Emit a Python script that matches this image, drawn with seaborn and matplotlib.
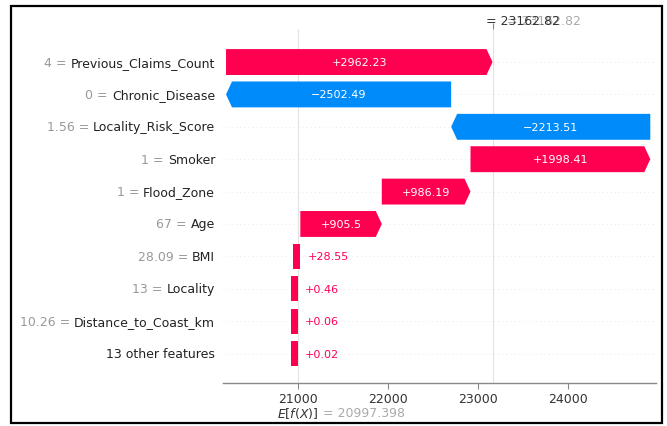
import numpy as np
import matplotlib
matplotlib.use("Agg")
import matplotlib.pyplot as plt
from matplotlib.patches import Polygon, Rectangle
import seaborn as sns

# ---------------- data ----------------
feature_names = ["Previous_Claims_Count", "Chronic_Disease", "Locality_Risk_Score", "Smoker",
                 "Flood_Zone", "Age", "BMI", "Locality", "Distance_to_Coast_km", "13 other features"]
feature_values = ["4", "0", "1.56", "1", "1", "67", "28.09", "13", "10.26", ""]
shap_values = [2962.23, -2502.49, -2213.51, 1998.41, 986.19, 905.5, 28.55, 0.46, 0.06, 0.02]
base_value = 20997.398
fx_text = "23162.82"
x_ticks = [21000, 22000, 23000, 24000]

RED = "#ff0051"
BLUE = "#008bfb"

sns.set_theme(style="white")
plt.rcParams['font.family'] = ['DejaVu Sans']

W, H = 667, 427
fig = plt.figure(figsize=(W / 100, H / 100), dpi=100)
AX_L, AX_R, AX_T, AX_B = 223, 656, 30, 384
ax = fig.add_axes([AX_L / W, 1 - AX_B / H, (AX_R - AX_L) / W, (AX_B - AX_T) / H])
xmin, xmax = 20167, 24980
ax.set_xlim(xmin, xmax)
n = len(shap_values)
ax.set_ylim(n - 0.09, -1.02)
px = (xmax - xmin) / (AX_R - AX_L)      # data units per pixel

vals = np.array(shap_values)
ends = base_value + np.cumsum(vals[::-1])[::-1]
starts = ends - vals
fx = ends[0]

# background guide lines
for i in range(n):
    ax.axhline(i, color="#d4d4d4", lw=0.5, dashes=(1, 5), zorder=-1)
ax.axvline(base_value, color="#e2e2e2", lw=0.8, zorder=0)
ax.axvline(fx, color="#e2e2e2", lw=0.8, zorder=0)

renderer = fig.canvas.get_renderer()
h = 0.8
hl = 6 * px

def fmt(v):
    s = "{:.2f}".format(abs(v)).rstrip("0").rstrip(".")
    return ("+" if v >= 0 else "\u2212") + s

for i, v in enumerate(vals):
    a, b = starts[i], ends[i]
    d = 1 if v >= 0 else -1
    col = RED if v >= 0 else BLUE
    if abs(v) > hl:
        poly = Polygon([(a, i - h / 2), (b - d * hl, i - h / 2), (b, i),
                        (b - d * hl, i + h / 2), (a, i + h / 2)],
                       closed=True, fc=col, ec="none", zorder=2)
        ax.add_patch(poly)
    else:
        c = (a + b) / 2 - 3 * px
        ax.add_patch(Rectangle((c - 3.5 * px, i - 0.39), 7 * px, 0.78,
                               fc=col, ec="none", zorder=2))
    t = ax.text((a + b) / 2, i, fmt(v), ha="center", va="center",
                color="white", fontsize=8, zorder=3)
    tw = t.get_window_extent(renderer).width
    if tw + 12 > abs(v) / px:
        t.remove()
        ax.text(max(a, b) + 7 * px if d > 0 else min(a, b) - 7 * px, i, fmt(v),
                ha="left" if d > 0 else "right", va="center", color=col,
                fontsize=8, zorder=3)

# feature labels
ytr = ax.get_yaxis_transform()
lab_x = (215 - AX_L) / (AX_R - AX_L)
for i, (name, fv) in enumerate(zip(feature_names, feature_values)):
    t = ax.text(lab_x, i, name, transform=ytr, ha="right", va="center",
                color="#222222", fontsize=9)
    if fv:
        bb = t.get_window_extent(renderer)
        left_axes = ax.transAxes.inverted().transform((bb.x0, 0))[0]
        ax.text(left_axes, i, fv + " = ", transform=ytr, ha="right", va="center",
                color="#999999", fontsize=9)

# axes styling
ax.set_yticks([])
ax.set_xticks(x_ticks)
ax.set_xticklabels([str(t) for t in x_ticks], fontsize=9, color="#333333")
ax.tick_params(axis="x", direction="out", length=4, width=0.8, color="#888888", pad=2.5)
sns.despine(ax=ax, left=True, top=True, right=True)
ax.spines["bottom"].set_color("#888888")
ax.spines["bottom"].set_linewidth(1.0)

ax2 = ax.twiny()
ax2.set_xlim(xmin, xmax)
ax2.set_xticks([fx])
ax2.set_xticklabels([""])
ax2.tick_params(axis="x", direction="out", length=4, width=0.8, color="#888888")
for s in ax2.spines.values():
    s.set_visible(False)

xtr = ax.get_xaxis_transform()
ax.text(fx + 14 * px, 1.025, "= " + fx_text, transform=xtr, ha="left", va="center",
        color="#aaaaaa", fontsize=9)
ax.text(fx - 7 * px, 1.025, "= " + fx_text, transform=xtr, ha="left", va="center",
        color="#333333", fontsize=9)
ax.text(base_value, -0.084, "$E[f(X)]$", transform=xtr, ha="center", va="center",
        color="#333333", fontsize=9)
ax.text(base_value + 25 * px, -0.084, "= {:.3f}".format(base_value), transform=xtr,
        ha="left", va="center", color="#aaaaaa", fontsize=9)

# screenshot frame
fig.patches.append(Rectangle((11 / W, 1 - 424 / H), (662 - 11) / W, (424 - 7) / H,
                             transform=fig.transFigure, fill=False, lw=1.6, ec="black"))

fig.savefig("out.png", dpi=100)
